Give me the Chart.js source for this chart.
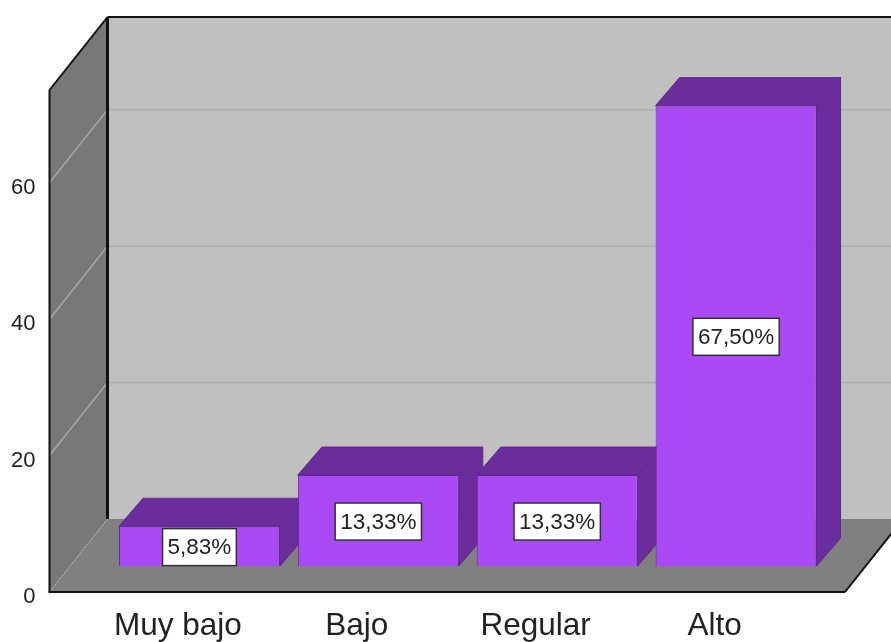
<!DOCTYPE html>
<html><head><meta charset="utf-8">
<script src="https://cdn.jsdelivr.net/npm/chart.js@4"></script>
<style>html,body{margin:0;padding:0;background:#fff}canvas{display:block}</style>
</head><body><canvas id="c" width="891" height="642"></canvas>
<script>
const categories = ["Muy bajo", "Bajo", "Regular", "Alto"];
const percentValues = [5.83, 13.33, 13.33, 67.5];
const valueLabels = ["5,83%", "13,33%", "13,33%", "67,50%"];
const yTickValues = [0, 20, 40, 60];
const yAxisMax = 73.6;

const WALL = {dx: 58, dy: -73, padL: 39, padR: 41};
const BAR = {dx: 21.5, dy: -26, depthX: 24, depthY: -28};
const FRONT = '#A94AF4', DARK = '#6B2D9C', EDGE = '#5E2A8A';

function poly(ctx, pts, fill, stroke, lw) {
  ctx.beginPath();
  pts.forEach((p, i) => i ? ctx.lineTo(p[0], p[1]) : ctx.moveTo(p[0], p[1]));
  ctx.closePath();
  if (fill) { ctx.fillStyle = fill; ctx.fill(); }
  if (stroke) { ctx.strokeStyle = stroke; ctx.lineWidth = lw || 1; ctx.stroke(); }
}
function line(ctx, x1, y1, x2, y2, color, lw, dash) {
  ctx.beginPath(); ctx.setLineDash(dash || []);
  ctx.moveTo(x1, y1); ctx.lineTo(x2, y2);
  ctx.strokeStyle = color; ctx.lineWidth = lw; ctx.stroke(); ctx.setLineDash([]);
}

const box3d = {
  id: 'box3d',
  beforeDatasetsDraw(chart) {
    const {ctx, chartArea: a, scales: {y}} = chart;
    const L = a.left - WALL.padL, R = a.right + WALL.padR, B = a.bottom, T = a.top;
    const bx = L + WALL.dx, by = B + WALL.dy, ty = T + WALL.dy, far = R + WALL.dx;
    ctx.save();
    poly(ctx, [[bx, ty], [far, ty], [far, by], [bx, by]], '#C0C0C0');
    poly(ctx, [[L, T], [bx, ty], [bx, by], [L, B]], '#787878');
    poly(ctx, [[L, B], [bx, by], [far, by], [R, B]], '#808080');
    yTickValues.forEach(v => {
      const p = y.getPixelForValue(v);
      if (v === 0) {
        line(ctx, L, p, bx, p + WALL.dy, '#B4B4B4', 1, [2, 2]);
      } else {
        line(ctx, L, p, bx, p + WALL.dy, '#A6A6A6', 1.5);
        line(ctx, bx, p + WALL.dy, far, p + WALL.dy, '#ABABAB', 1.5);
      }
    });
    line(ctx, bx, ty, bx, by, '#111', 3);
    line(ctx, bx, ty, far, ty, '#111', 2);
    line(ctx, L, T, bx, ty, '#111', 2);
    line(ctx, L, T, L, B, '#111', 2);
    line(ctx, L - 1, B, R, B, '#111', 2);
    line(ctx, R, B, far, by, '#111', 2);

    // depth faces of each bar
    chart.getDatasetMeta(0).data.forEach(bar => {
      const hw = bar.width / 2;
      const l = bar.x - hw + BAR.dx, r = bar.x + hw + BAR.dx;
      const t = bar.y + BAR.dy, b = bar.base + BAR.dy;
      const ox = BAR.depthX, oy = BAR.depthY;
      poly(ctx, [[r, t], [r + ox, t + oy], [r + ox, b + oy], [r, b]], DARK, EDGE, 1);
      poly(ctx, [[l, t], [l + ox, t + oy], [r + ox, t + oy], [r, t]], DARK, EDGE, 1);
    });
    ctx.translate(BAR.dx, BAR.dy);
  },
  afterDatasetsDraw(chart) {
    const {ctx} = chart;
    ctx.restore();
    ctx.save();
    ctx.font = '22.5px "Liberation Sans", Arial, sans-serif';
    ctx.textAlign = 'center'; ctx.textBaseline = 'middle';
    chart.getDatasetMeta(0).data.forEach((bar, i) => {
      const cx = bar.x + BAR.dx, cy = (bar.y + bar.base) / 2 + BAR.dy + 1;
      const w = ctx.measureText(valueLabels[i]).width + 10, h = 37;
      ctx.fillStyle = '#fff';
      ctx.fillRect(cx - w / 2, cy - h / 2, w, h);
      ctx.strokeStyle = '#333'; ctx.lineWidth = 1.5;
      ctx.strokeRect(cx - w / 2, cy - h / 2, w, h);
      ctx.fillStyle = '#222';
      ctx.fillText(valueLabels[i], cx, cy + 1);
    });
    ctx.restore();
  }
};

new Chart(document.getElementById('c'), {
  type: 'bar',
  data: {
    labels: categories,
    datasets: [{
      data: percentValues,
      backgroundColor: FRONT,
      borderColor: EDGE,
      borderWidth: 1,
      barPercentage: 0.9,
      categoryPercentage: 1
    }]
  },
  options: {
    responsive: false,
    animation: false,
    layout: {padding: {top: 90, right: 87, left: 0, bottom: 0}},
    plugins: {legend: {display: false}, title: {display: false}, tooltip: {enabled: false}},
    scales: {
      x: {
        grid: {display: false, drawTicks: false},
        border: {display: false},
        afterFit(s) { s.height = 50; },
        ticks: {color: '#222', padding: 15, maxRotation: 0, font: {family: '"Liberation Sans", Arial, sans-serif', size: 31.5}}
      },
      y: {
        min: 0, max: yAxisMax,
        grid: {display: false, drawTicks: false},
        border: {display: false},
        afterBuildTicks(s) { s.ticks = yTickValues.map(v => ({value: v})); },
        afterFit(s) { s.width = 88.5; s.paddingTop = 0; s.paddingBottom = 0; },
        ticks: {color: '#222', padding: 53, labelOffset: 5, font: {family: '"Liberation Sans", Arial, sans-serif', size: 22}}
      }
    }
  },
  plugins: [box3d]
});
</script>
</body></html>
